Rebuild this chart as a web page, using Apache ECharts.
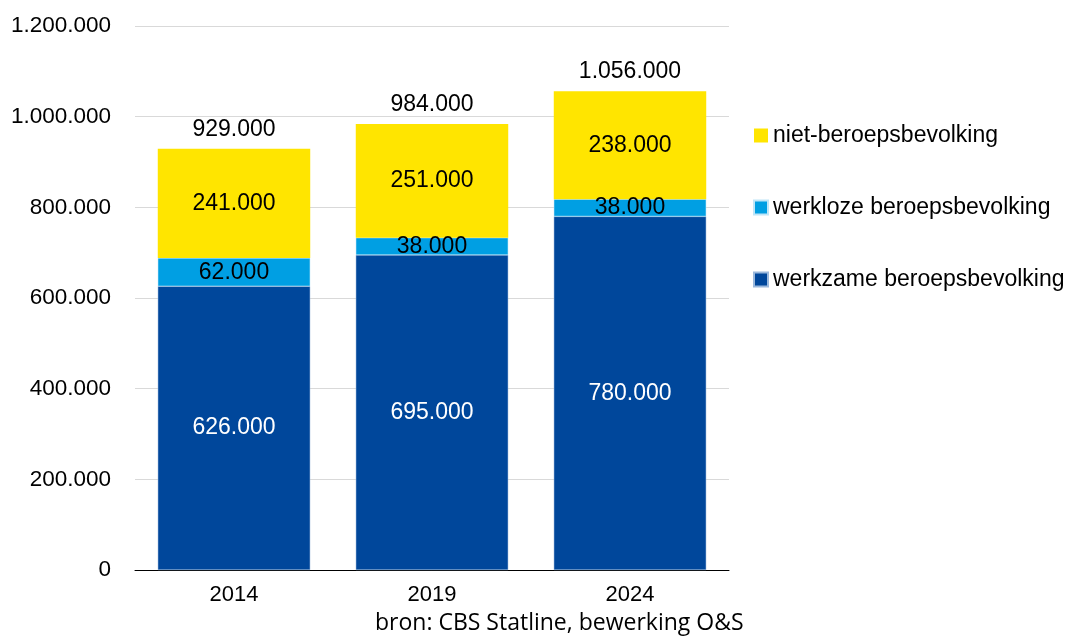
<!DOCTYPE html>
<html>
<head>
<meta charset="utf-8">
<script src="https://cdn.jsdelivr.net/npm/echarts@6/dist/echarts.min.js"></script>
<style>
  html, body { margin: 0; padding: 0; background: #fff; }
  #chart { width: 1078px; height: 641px; }
</style>
</head>
<body>
<div id="chart"></div>
<script>
// jaren
var years = ['2014', '2019', '2024'];
// waarden per groep
var werkzaam = [626000, 695000, 780000];
var werkloos = [62000, 38000, 38000];
var nietBeroeps = [241000, 251000, 238000];
var totalen = [929000, 984000, 1056000];

function nl(v) {
    return String(v).replace(/\B(?=(\d{3})+(?!\d))/g, '.');
}

var myChart = echarts.init(document.getElementById('chart'));
var fontFam = '"Liberation Sans", Arial, sans-serif';

var option = {
    "animation": false,
    "grid": {
        "left": 135,
        "right": 349,
        "top": 26,
        "bottom": 71
    },
    "legend": {
        "orient": "vertical",
        "left": 748,
        "top": 119,
        "itemWidth": 14,
        "itemHeight": 14,
        "itemGap": 49,
        "icon": "rect",
        "textStyle": {
            "fontFamily": fontFam,
            "fontSize": 23,
            "color": "#000"
        },
        "data": ['niet-beroepsbevolking', 'werkloze beroepsbevolking', 'werkzame beroepsbevolking']
    },
    "xAxis": {
        "type": "category",
        "data": years,
        "axisTick": { "show": false },
        "axisLine": { "lineStyle": { "color": "#000", "width": 1 } },
        "axisLabel": {
            "fontFamily": fontFam,
            "fontSize": 22,
            "color": "#000",
            "margin": 14
        }
    },
    "yAxis": {
        "type": "value",
        "min": 0,
        "max": 1200000,
        "interval": 200000,
        "axisLine": { "show": false },
        "axisTick": { "show": false },
        "splitLine": { "lineStyle": { "color": "#d9d9d9", "width": 1 } },
        "axisLabel": {
            "fontFamily": fontFam,
            "fontSize": 22.5,
            "color": "#000",
            "margin": 24,
            "formatter": function (v) { return nl(v); }
        }
    },
    "series": [
        {
            "name": 'werkzame beroepsbevolking',
            "type": "bar",
            "stack": "totaal",
            "barWidth": '77%',
            "itemStyle": { "color": "#00479b", "borderColor": "#9ab8dc", "borderWidth": 0.5 },
            "label": {
                "show": true,
                "position": "inside",
                "fontFamily": fontFam,
                "fontSize": 23,
                "color": "#fff",
                "formatter": function (p) { return nl(p.value); }
            },
            "data": werkzaam
        },
        {
            "name": 'werkloze beroepsbevolking',
            "type": "bar",
            "stack": "totaal",
            "itemStyle": { "color": "#009fe3", "borderColor": "#bfe6f8", "borderWidth": 0.5 },
            "label": {
                "show": true,
                "position": "inside",
                "fontFamily": fontFam,
                "fontSize": 23,
                "color": "#000",
                "formatter": function (p) { return nl(p.value); }
            },
            "data": werkloos
        },
        {
            "name": 'niet-beroepsbevolking',
            "type": "bar",
            "stack": "totaal",
            "itemStyle": { "color": "#ffe500" },
            "label": {
                "show": true,
                "position": "inside",
                "fontFamily": fontFam,
                "fontSize": 23,
                "color": "#000",
                "formatter": function (p) { return nl(p.value); }
            },
            "data": nietBeroeps
        },
        {
            "name": 'totaal',
            "type": "bar",
            "stack": "totaal",
            "silent": true,
            "itemStyle": { "color": "transparent" },
            "label": {
                "show": true,
                "position": "top",
                "distance": 8,
                "fontFamily": fontFam,
                "fontSize": 23,
                "color": "#000",
                "formatter": function (p) { return nl(totalen[p.dataIndex]); }
            },
            "data": [0, 0, 0]
        }
    ],
    "graphic": [
        {
            "type": "text",
            "left": 375,
            "top": 612,
            "style": {
                "text": 'bron: CBS Statline, bewerking O&S',
                "font": '23px "Open Sans", "Noto Sans", sans-serif',
                "fill": "#000"
            }
        }
    ]
};
myChart.setOption(option);
</script>
</body>
</html>
